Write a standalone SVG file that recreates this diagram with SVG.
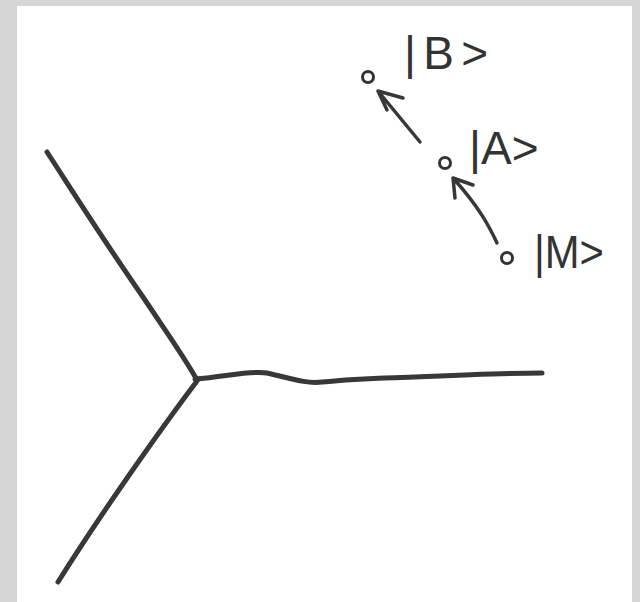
<svg xmlns="http://www.w3.org/2000/svg" width="640" height="602" viewBox="0 0 640 602">
<style>
.ink{fill:none;stroke:#383838;stroke-linecap:round;stroke-linejoin:round}
.line{stroke-width:5}
.arr{stroke-width:3.5}
.dot{fill:none;stroke:#333;stroke-width:3}
.lbl{font-family:"Liberation Sans",Arial,sans-serif;font-size:46px;fill:#333}
</style>
<rect width="640" height="602" fill="#d6d6d6"/>
<rect x="17" y="6" width="615" height="596" fill="#ffffff"/>
<g id="lines">
<path class="ink line" d="M47,152 C75,195 100,235 143,297 C165,330 185,358 197,380"/>
<path class="ink line" d="M197,381 C160,430 100,515 58,582"/>
<path class="ink line" d="M195,379 C225,377 250,370 267,373 C290,378 305,384 322,382 C360,378 390,378 413,377 C460,375 505,373 542,373"/>
</g>
<g id="state-B">
<circle class="dot" cx="368" cy="77" r="5.5"/>
<text class="lbl" x="404" y="69" textLength="84" lengthAdjust="spacing">|B&gt;</text>
</g>
<g id="state-A">
<circle class="dot" cx="445" cy="163" r="5.5"/>
<text class="lbl" x="469" y="164">|A&gt;</text>
</g>
<g id="state-M">
<circle class="dot" cx="507" cy="258" r="5.5"/>
<text class="lbl" x="534" y="268" textLength="70" lengthAdjust="spacingAndGlyphs">|M&gt;</text>
</g>
<g id="connectors">
<path class="ink arr" d="M420,142 L378,91 M378,91 L403,98 M378,91 L387,110"/>
<path class="ink arr" d="M497,243 C490,228 480,208 453,178 M453,178 L473,185 M453,178 L455,198"/>
</g>
</svg>
